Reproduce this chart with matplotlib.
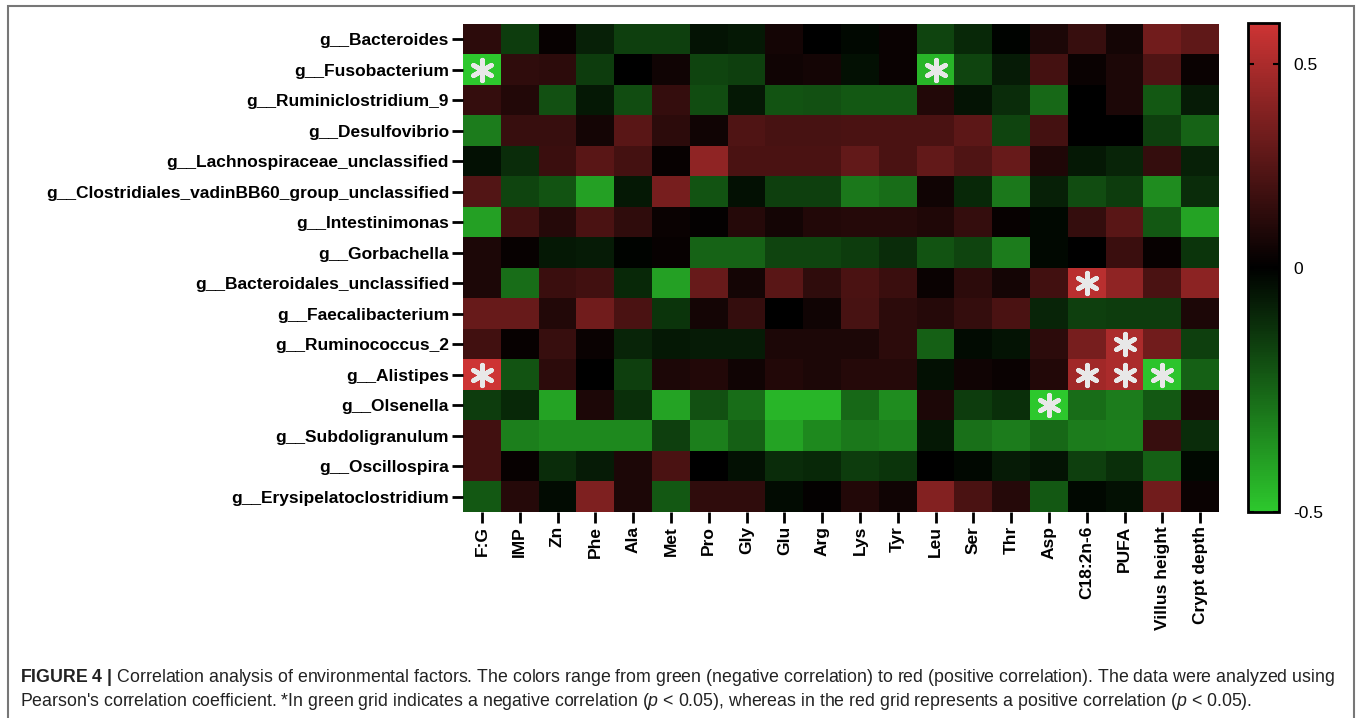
import numpy as np
import matplotlib
matplotlib.use("Agg")
from matplotlib import pyplot as plt
from matplotlib.colors import LinearSegmentedColormap, TwoSlopeNorm
from matplotlib.patches import Rectangle

plt.rcParams['font.family'] = 'Liberation Sans'
plt.rcParams['mathtext.fontset'] = 'custom'
plt.rcParams['mathtext.rm'] = 'Liberation Sans'
plt.rcParams['mathtext.it'] = 'Liberation Sans:italic'
plt.rcParams['mathtext.bf'] = 'Liberation Sans:bold'

# genera (rows) and environmental factors (columns)
genera = ["g__Bacteroides", "g__Fusobacterium", "g__Ruminiclostridium_9", "g__Desulfovibrio",
          "g__Lachnospiraceae_unclassified", "g__Clostridiales_vadinBB60_group_unclassified",
          "g__Intestinimonas", "g__Gorbachella", "g__Bacteroidales_unclassified",
          "g__Faecalibacterium", "g__Ruminococcus_2", "g__Alistipes", "g__Olsenella",
          "g__Subdoligranulum", "g__Oscillospira", "g__Erysipelatoclostridium"]
factors = ["F:G", "IMP", "Zn", "Phe", "Ala", "Met", "Pro", "Gly", "Glu", "Arg", "Lys", "Tyr",
           "Leu", "Ser", "Thr", "Asp", "C18:2n-6", "PUFA", "Villus height", "Crypt depth"]

# pearson r
r_bacteroides = [0.13, -0.15, 0.02, -0.08, -0.16, -0.16, -0.05, -0.06, 0.06, 0.0, -0.02, 0.03, -0.17, -0.1, -0.01, 0.08, 0.16, 0.06, 0.33, 0.28]
r_fusobacterium = [-0.5, 0.14, 0.13, -0.15, 0.0, 0.05, -0.17, -0.16, 0.05, 0.06, -0.04, 0.03, -0.45, -0.17, -0.07, 0.2, 0.03, 0.08, 0.23, 0.03]
r_ruminiclostridium = [0.15, 0.1, -0.2, -0.06, -0.19, 0.15, -0.19, -0.06, -0.21, -0.2, -0.22, -0.22, 0.1, -0.05, -0.11, -0.26, 0.0, 0.08, -0.22, -0.07]
r_desulfovibrio = [-0.31, 0.16, 0.16, 0.06, 0.26, 0.13, 0.05, 0.23, 0.21, 0.21, 0.22, 0.22, 0.22, 0.27, -0.17, 0.2, 0.0, 0.0, -0.16, -0.25]
r_lachnospiraceae = [-0.04, -0.11, 0.17, 0.26, 0.2, 0.02, 0.42, 0.22, 0.22, 0.22, 0.29, 0.22, 0.29, 0.23, 0.3, 0.09, -0.06, -0.09, 0.15, -0.08]
r_clostridiales = [0.24, -0.17, -0.21, -0.4, -0.06, 0.35, -0.21, -0.04, -0.16, -0.16, -0.3, -0.27, 0.05, -0.1, -0.3, -0.08, -0.19, -0.15, -0.35, -0.11]
r_intestinimonas = [-0.4, 0.19, 0.11, 0.22, 0.14, 0.03, 0.01, 0.11, 0.06, 0.1, 0.11, 0.11, 0.09, 0.15, 0.02, -0.02, 0.15, 0.26, -0.22, -0.41]
r_gorbachella = [0.08, 0.02, -0.06, -0.07, -0.01, 0.02, -0.25, -0.25, -0.17, -0.17, -0.15, -0.11, -0.21, -0.17, -0.31, -0.02, 0.0, 0.17, 0.02, -0.13]
r_bacteroidales = [0.08, -0.27, 0.17, 0.19, -0.1, -0.4, 0.3, 0.06, 0.26, 0.14, 0.22, 0.17, 0.03, 0.13, 0.06, 0.19, 0.54, 0.42, 0.22, 0.41]
r_faecalibacterium = [0.3, 0.3, 0.1, 0.33, 0.22, -0.13, 0.06, 0.15, 0.0, 0.05, 0.21, 0.13, 0.11, 0.15, 0.22, -0.09, -0.16, -0.15, -0.15, 0.08]
r_ruminococcus = [0.19, 0.02, 0.16, 0.03, -0.09, -0.06, -0.07, -0.07, 0.08, 0.08, 0.08, 0.13, -0.24, -0.03, -0.05, 0.13, 0.35, 0.5, 0.33, -0.16]
r_alistipes = [0.6, -0.21, 0.13, 0.0, -0.16, 0.08, 0.1, 0.05, 0.1, 0.08, 0.11, 0.11, -0.04, 0.05, 0.03, 0.1, 0.47, 0.5, -0.49, -0.24]
r_olsenella = [-0.15, -0.1, -0.41, 0.08, -0.12, -0.41, -0.2, -0.27, -0.45, -0.45, -0.26, -0.35, 0.08, -0.15, -0.12, -0.5, -0.27, -0.31, -0.22, 0.08]
r_subdoligranulum = [0.19, -0.32, -0.34, -0.34, -0.34, -0.16, -0.32, -0.24, -0.41, -0.34, -0.3, -0.32, -0.06, -0.28, -0.31, -0.26, -0.31, -0.32, 0.16, -0.11]
r_oscillospira = [0.19, 0.02, -0.11, -0.07, 0.08, 0.22, 0.0, -0.04, -0.11, -0.1, -0.15, -0.13, 0.0, -0.02, -0.07, -0.05, -0.16, -0.12, -0.24, -0.02]
r_erysipelato = [-0.22, 0.11, -0.03, 0.37, 0.08, -0.22, 0.14, 0.14, -0.03, 0.01, 0.1, 0.05, 0.38, 0.22, 0.11, -0.22, -0.02, -0.04, 0.33, 0.03]

# significant cells (p < 0.05): row index, column index
sig_rows = [1, 1, 8, 10, 11, 11, 11, 11, 12]
sig_cols = [0, 12, 16, 17, 0, 16, 17, 18, 15]

data = np.array([r_bacteroides, r_fusobacterium, r_ruminiclostridium, r_desulfovibrio,
                 r_lachnospiraceae, r_clostridiales, r_intestinimonas, r_gorbachella,
                 r_bacteroidales, r_faecalibacterium, r_ruminococcus, r_alistipes,
                 r_olsenella, r_subdoligranulum, r_oscillospira, r_erysipelato])

cmap = LinearSegmentedColormap.from_list("gkr", ["#2dc82d", "#000000", "#cd3434"])
norm = TwoSlopeNorm(vmin=-0.5, vcenter=0, vmax=0.6)

W, H = 1357, 718
fig = plt.figure(figsize=(W / 100, H / 100), dpi=100)

ax = fig.add_axes([463 / W, 1 - 512 / H, 756 / W, 488 / H])
im = ax.imshow(data, cmap=cmap, norm=norm, aspect='auto', interpolation='nearest')
ax.scatter(sig_cols, sig_rows, marker=(6, 2, 0), s=220, linewidths=3.4, color='#e8e8e8', zorder=3)

ax.set_xticks(range(len(factors)))
ax.set_xticklabels(factors, rotation=90, fontweight='bold', fontsize=12.5)
ax.set_yticks(range(len(genera)))
ax.set_yticklabels(genera, fontweight='bold', fontsize=12.5)
ax.tick_params(length=8, width=2, pad=2, color='black')
for s in ax.spines.values():
    s.set_visible(False)

cax = fig.add_axes([1248 / W, 1 - 512 / H, 31 / W, 489 / H])
cb = fig.colorbar(im, cax=cax, ticks=[-0.5, 0, 0.5])
cb.ax.set_yticklabels(['-0.5', '0', '0.5'], fontsize=12.5)
cb.outline.set_linewidth(2)
cax.tick_params(direction='in', length=4, width=1.5, left=True, right=True, pad=10)

caption1 = (r"$\mathbf{FIGURE\ 4\ |}$ Correlation analysis of environmental factors. The colors range from green "
            r"(negative correlation) to red (positive correlation). The data were analyzed using")
caption2 = (r"Pearson's correlation coefficient. *In green grid indicates a negative correlation ($\mathit{p}$ < 0.05), "
            r"whereas in the red grid represents a positive correlation ($\mathit{p}$ < 0.05).")
fig.text(20 / W, 1 - 677 / H, caption1, fontsize=12.8, va='center', ha='left', color='#222222')
fig.text(20 / W, 1 - 702 / H, caption2, fontsize=12.8, va='center', ha='left', color='#222222')

fig.patches.append(Rectangle((8 / W, -0.05), (1354 - 8) / W, 1.05 - 6 / H, transform=fig.transFigure,
                             fill=False, edgecolor='#777777', linewidth=1.5))

fig.savefig("out.png", dpi=100)
